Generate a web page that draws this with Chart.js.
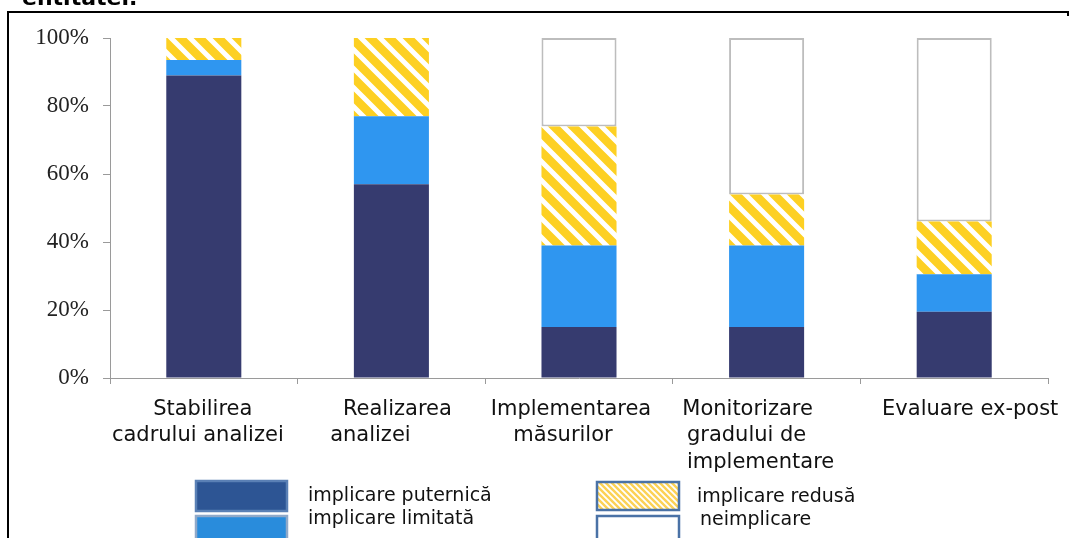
<!DOCTYPE html>
<html><head><meta charset="utf-8">
<script src="https://cdn.jsdelivr.net/npm/chart.js@4"></script>
<style>html,body{margin:0;padding:0;background:#fff;overflow:hidden}#wrap{width:1070px;height:538px;position:relative}</style>
</head><body><div id="wrap"><canvas id="c" width="1070" height="538"></canvas></div>
<script>
// ---- data ----
const categories = [["Stabilirea","cadrului analizei"],["Realizarea","analizei"],["Implementarea","măsurilor"],["Monitorizare","gradului de","implementare"],["Evaluare ex-post"]];
const seriesNames = ["implicare puternică","implicare limitată","implicare redusă","neimplicare"];
const puternica = [89, 57, 15, 15, 19.5];
const limitata = [4.5, 20, 24, 24, 11];
const redusa = [6.5, 23, 35, 15, 15.5];
const neimplicare = [0, 0, 26, 46, 54];
const yTickStep = 20;
const titleText = "entitatei.";

// ---- style ----
const labelLineOffsets = [[-1,-6],[6,-21],[-8,-16],[-19,-20,-6],[16]];
const C_DARK = '#363b6f', C_BLUE = '#2f96f0', C_YEL = '#fdd023';

function hatch(period, lw, bg) {
  const t = document.createElement('canvas');
  t.width = period; t.height = period;
  const g = t.getContext('2d');
  g.fillStyle = bg; g.fillRect(0,0,period,period);
  g.strokeStyle = '#ffffff'; g.lineWidth = lw; g.lineCap = 'square';
  g.beginPath();
  for (let k=-2;k<=2;k++){ g.moveTo(k*period - period, -period); g.lineTo(k*period + 2*period, 2*period); }
  g.stroke();
  return g.createPattern(t,'repeat');
}
const ctx = document.getElementById('c').getContext('2d');
const barHatch = hatch(19, 5, C_YEL);
const legendHatch = hatch(6, 1.8, '#fcd256');

const deco = {
  id:'deco',
  beforeDraw(chart){
    const c = chart.ctx; c.save();
    c.fillStyle='#fff'; c.fillRect(0,0,chart.width,chart.height);
    c.fillStyle='#000';
    c.fillRect(7,11,1062,2); c.fillRect(7,11,2,527); c.fillRect(1067,11,2,5);
    c.font='bold 22px "DejaVu Sans"'; c.textBaseline='alphabetic'; c.textAlign='left';
    c.fillText(titleText,22,5);
    c.restore();
  },
  afterDraw(chart){
    const c = chart.ctx, xs = chart.scales.x; c.save();
    c.fillStyle='#111'; c.font='21px "DejaVu Sans"'; c.textAlign='center'; c.textBaseline='alphabetic';
    categories.forEach((lines,i)=>{
      const cx = xs.getPixelForTick(i);
      lines.forEach((ln,j)=>{ c.fillText(ln, cx + labelLineOffsets[i][j], 414.5 + j*26.5); });
    });
    // legend
    const boxes = [
      {x:196,y:481,w:91,h:30,fill:'#2d5594',stroke:'#5a80b5',tx:308,ty:501},
      {x:196,y:516,w:91,h:30,fill:'#298cdc',stroke:'#8fa9c9',tx:308,ty:524},
      {x:597,y:482,w:82,h:28,fill:legendHatch,stroke:'#4a72a6',tx:697,ty:501.5},
      {x:597,y:516,w:82,h:30,fill:'#ffffff',stroke:'#4a72a6',tx:700,ty:525}
    ];
    c.textAlign='left'; c.font='19px "DejaVu Sans"';
    boxes.forEach((b,i)=>{
      c.fillStyle=b.fill; c.fillRect(b.x,b.y,b.w,b.h);
      c.strokeStyle=b.stroke; c.lineWidth=2.5; c.strokeRect(b.x,b.y,b.w,b.h);
      c.fillStyle='#111'; c.fillText(seriesNames[i], b.tx, b.ty);
    });
    c.restore();
  }
};

new Chart(ctx, {
  type:'bar',
  data:{
    labels: categories,
    datasets:[
      {label:seriesNames[0], data:puternica, backgroundColor:C_DARK, borderWidth:0},
      {label:seriesNames[1], data:limitata, backgroundColor:C_BLUE, borderWidth:0},
      {label:seriesNames[2], data:redusa, backgroundColor:barHatch, borderWidth:0},
      {label:seriesNames[3], data:neimplicare, backgroundColor:'#ffffff', borderColor:'#bdbdbd',
        borderWidth:(k)=> (k.raw>0?2:0), borderSkipped:false}
    ]
  },
  options:{
    responsive:false, animation:false, devicePixelRatio:1,
    layout:{padding:{left:0,right:22,top:38,bottom:0}},
    plugins:{legend:{display:false}, tooltip:{enabled:false}, title:{display:false}},
    datasets:{bar:{categoryPercentage:1, barPercentage:0.4}},
    scales:{
      x:{stacked:true, offset:true,
        grid:{display:true, drawOnChartArea:false, drawTicks:true, tickLength:6, color:'#9a9a9a', offset:true},
        border:{display:true, color:'#9a9a9a', width:1},
        ticks:{display:false},
        afterFit(s){ s.height = 160; }
      },
      y:{stacked:true, min:0, max:100,
        grid:{display:true, drawOnChartArea:false, drawTicks:true, tickLength:7, color:'#9a9a9a'},
        border:{display:true, color:'#9a9a9a', width:1},
        ticks:{stepSize:yTickStep, padding:14, color:'#222', font:{family:'"Liberation Serif"', size:23},
          callback:(v)=> v + '%'},
        afterFit(s){ s.width = 110; }
      }
    }
  },
  plugins:[deco]
});
</script></body></html>
